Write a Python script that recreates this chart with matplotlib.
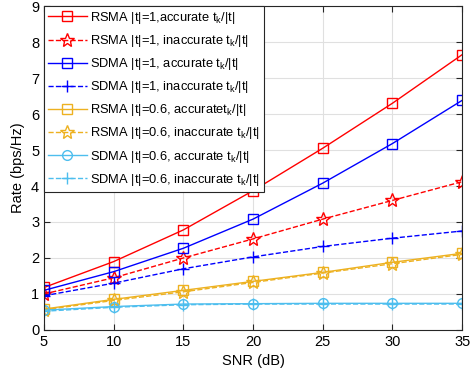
import matplotlib
matplotlib.use('Agg')
import matplotlib.pyplot as plt

plt.rcParams['font.family'] = ['Liberation Sans', 'DejaVu Sans']
plt.rcParams['mathtext.default'] = 'regular'

snr = [5, 10, 15, 20, 25, 30, 35]

rsma_1_acc = [1.18, 1.9, 2.78, 3.87, 5.05, 6.3, 7.65]
rsma_1_inacc = [1.0, 1.45, 2.0, 2.53, 3.08, 3.6, 4.12]
sdma_1_acc = [1.1, 1.62, 2.27, 3.08, 4.08, 5.18, 6.38]
sdma_1_inacc = [0.95, 1.3, 1.7, 2.03, 2.32, 2.55, 2.75]
rsma_06_acc = [0.58, 0.85, 1.1, 1.35, 1.6, 1.88, 2.13]
rsma_06_inacc = [0.56, 0.82, 1.06, 1.32, 1.58, 1.84, 2.1]
sdma_06_acc = [0.55, 0.65, 0.72, 0.73, 0.74, 0.74, 0.74]
sdma_06_inacc = [0.52, 0.63, 0.7, 0.72, 0.72, 0.72, 0.72]

labels = [
    'RSMA |t|=1,accurate $t_k$/|t|',
    'RSMA |t|=1, inaccurate $t_k$/|t|',
    'SDMA |t|=1, accurate $t_k$/|t|',
    'SDMA |t|=1, inaccurate $t_k$/|t|',
    'RSMA |t|=0.6, accurate$t_k$/|t|',
    'RSMA |t|=0.6, inaccurate $t_k$/|t|',
    'SDMA |t|=0.6, accurate $t_k$/|t|',
    'SDMA |t|=0.6, inaccurate $t_k$/|t|',
]

red = '#ff0000'
blue = '#0000ff'
orange = '#edb120'
cyan = '#4dbeee'

fig = plt.figure(figsize=(4.73, 3.81), dpi=100)
ax = fig.add_axes([0.093, 0.134, 0.884, 0.850])

mfc = 'none'
ax.plot(snr, rsma_1_acc, '-', color=red, marker='s', ms=6.5, mfc=mfc, lw=1, label=labels[0])
ax.plot(snr, rsma_1_inacc, '--', color=red, marker='*', ms=10, mfc=mfc, lw=1, label=labels[1])
ax.plot(snr, sdma_1_acc, '-', color=blue, marker='s', ms=6.5, mfc=mfc, lw=1, label=labels[2])
ax.plot(snr, sdma_1_inacc, '--', color=blue, marker='+', ms=9, mfc=mfc, lw=1, label=labels[3])
ax.plot(snr, rsma_06_acc, '-', color=orange, marker='s', ms=6.5, mfc=mfc, lw=1, label=labels[4])
ax.plot(snr, rsma_06_inacc, '--', color=orange, marker='*', ms=10, mfc=mfc, lw=1, label=labels[5])
ax.plot(snr, sdma_06_acc, '-', color=cyan, marker='o', ms=7, mfc=mfc, lw=1, label=labels[6])
ax.plot(snr, sdma_06_inacc, '--', color=cyan, marker='+', ms=9, mfc=mfc, lw=1, label=labels[7])

ax.set_xlim(5, 35)
ax.set_ylim(0, 9)
ax.set_xticks(snr)
ax.set_yticks(range(0, 10))
ax.grid(True, color='#e0e0e0', lw=0.8)
ax.tick_params(direction='in', labelsize=10.5, top=True, right=True, length=4, color='#262626')
for s in ax.spines.values():
    s.set_color('#262626')
    s.set_linewidth(0.8)
ax.set_xlabel('SNR (dB)', fontsize=10.5)
ax.set_ylabel('Rate (bps/Hz)', fontsize=10.5)

leg = ax.legend(loc='upper left', fontsize=9.3, fancybox=False, framealpha=1,
                edgecolor='#262626', borderaxespad=0, handlelength=3.0,
                handletextpad=0.3, labelspacing=0.55, borderpad=0.3)
leg.get_frame().set_linewidth(0.8)

fig.savefig('out.png', dpi=100)
